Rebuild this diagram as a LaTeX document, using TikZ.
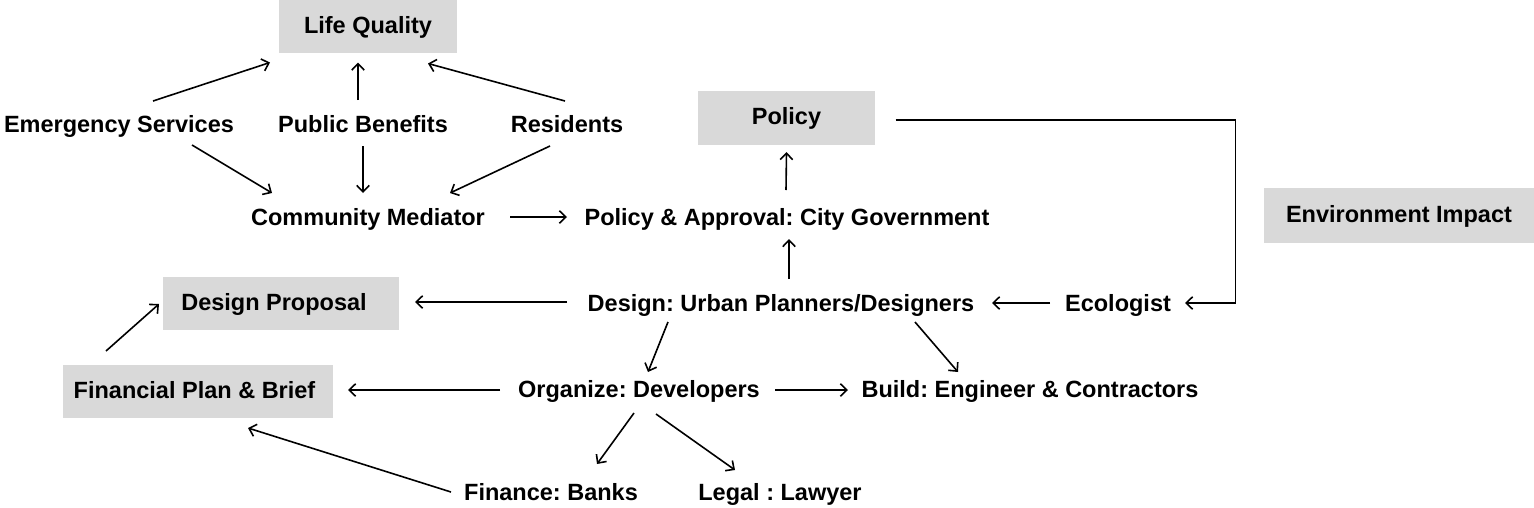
\documentclass[tikz,border=0pt]{standalone}
\usepackage{fontspec}
\setmainfont{Liberation Sans}
\usetikzlibrary{arrows.meta,calc}
\definecolor{boxgray}{HTML}{D9D9D9}
\tikzset{
  lbl/.style={inner sep=0pt, text height=17pt, text depth=0pt, font=\fontsize{23.5}{28}\selectfont\bfseries\frenchspacing, text=black},
  gbox/.style={lbl, text depth=4pt, fill=boxgray, minimum height=53pt},
  arr/.style={line width=1.6pt, -{Straight Barb[length=6.5pt,width=12.5pt,line width=1.6pt]}},
}
\begin{document}
\begin{tikzpicture}[x=1pt,y=-1pt]
\useasboundingbox (0,0) rectangle (1534,507);
% boxes
\node[gbox, minimum width=178pt] (lq) at (368,26.5) {Life Quality};
\node[gbox, minimum width=177pt, minimum height=54pt] (pol) at (786.5,118) {Policy};
\node[gbox, minimum width=270pt, minimum height=55pt] (env) at (1399,215.5) {Environment Impact};
\node[gbox, minimum width=236pt] (dp) at (281,303.5) {\hspace*{-14pt}Design Proposal};
\node[gbox, minimum width=270pt] (fp) at (198,391.5) {\hspace*{-7pt}Financial Plan \& Brief};
% text nodes
\node[lbl] (es) at (119,123.5) {Emergency Services};
\node[lbl] (pb) at (363,123.5) {Public Benefits};
\node[lbl] (res) at (567,123.5) {Residents};
\node[lbl] (cm) at (368,216.5) {Community Mediator};
\node[lbl] (pa) at (787,216.5) {Policy \& Approval: City Government};
\node[lbl] (des) at (781,302.5) {Design: Urban Planners/Designers};
\node[lbl] (eco) at (1118,302.5) {Ecologist};
\node[lbl] (org) at (639,388.5) {Organize: Developers};
\node[lbl] (bld) at (1030,388.5) {Build: Engineer \& Contractors};
\node[lbl] (fin) at (551,491.5) {Finance: Banks};
\node[lbl] (leg) at (780,491.5) {Legal : Lawyer};
% connectors
\draw[arr] ($(es)+(34,-22.5)$) -- ($(lq)+(-98,36)$);
\draw[arr] ($(pb)+(-5,-23.5)$) -- ($(lq)+(-10,36)$);
\draw[arr] ($(res)+(-2,-22.5)$) -- ($(lq)+(60,37)$);
\draw[arr] ($(es)+(73,21.5)$) -- ($(cm)+(-96,-23.5)$);
\draw[arr] ($(pb)+(0,22.5)$) -- ($(cm)+(-5,-23.5)$);
\draw[arr] ($(res)+(-17,22.5)$) -- ($(cm)+(82,-23.5)$);
\draw[arr] ($(cm)+(142,0.5)$) -- ($(pa)+(-220,0.5)$);
\draw[arr] ($(pa)+(-1,-26.5)$) -- ($(pol)+(0,34)$);
\draw[arr] ($(des)+(8,-23.5)$) -- ($(pa)+(2,22.5)$);
\draw[arr] ($(pol)+(109,2)$) -- ++(340,0) |- ($(eco)+(67,0.5)$);
\draw[arr] ($(eco)+(-68,0.5)$) -- ($(des)+(211,0.5)$);
\draw[arr] ($(des)+(-214,-0.5)$) -- ($(dp)+(134,-1.5)$);
\draw[arr] ($(fp)+(-92,-40.5)$) -- ($(dp)+(-122,0.5)$);
\draw[arr] ($(des)+(-113,19.5)$) -- ($(org)+(9,-16.5)$);
\draw[arr] ($(des)+(134,19.5)$) -- ($(bld)+(-72,-16.5)$);
\draw[arr] ($(org)+(-139,1.5)$) -- ($(fp)+(150,-1.5)$);
\draw[arr] ($(org)+(136,1.5)$) -- ($(bld)+(-182,1.5)$);
\draw[arr] ($(org)+(-5,24.5)$) -- ($(fin)+(46,-27.5)$);
\draw[arr] ($(org)+(17,25.5)$) -- ($(leg)+(-45,-21.5)$);
\draw[arr] ($(fin)+(-100,0.5)$) -- ($(fp)+(50,36.5)$);
\end{tikzpicture}
\end{document}
